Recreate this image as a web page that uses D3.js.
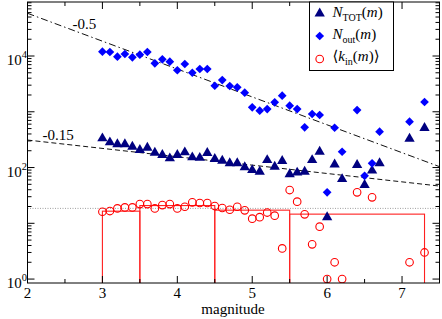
<!DOCTYPE html>
<html>
<head>
<meta charset="utf-8">
<script src="https://cdn.jsdelivr.net/npm/d3@7"></script>
<style>
  body { margin: 0; background: #fff; }
  svg { display: block; font-family: "Liberation Serif", "DejaVu Serif", serif; }
</style>
</head>
<body>
<div id="chart"></div>
<script>
// magnitudes where N_TOT and N_out are shown
const magsN = [3.0, 3.1, 3.2, 3.3, 3.4, 3.5, 3.6, 3.7, 3.8, 3.9, 4.0, 4.1, 4.2, 4.3, 4.4,
    4.5, 4.6, 4.7, 4.8, 4.9, 5.0, 5.1, 5.2, 5.3, 5.4, 5.5, 5.6, 5.7, 5.8, 5.9, 6.0, 6.1, 6.2,
    6.4, 6.5, 6.6, 6.7, 7.1, 7.3];
const nTot = [334, 283, 261, 261, 236, 206, 227, 184, 168, 146, 168, 187, 152, 149, 182,
    142, 132, 119, 119, 101, 90, 84, 136, 103, 131, 76, 81, 84, 136, 192, 12.8, 113, 62,
    111, 48.5, 88, 119, 329, 511];
const nOut = [11940, 11800, 9710, 10860, 9480, 10550, 11800, 7400, 8730, 7910, 5550, 7190, 5010, 5850, 5850,
    2930, 3710, 2900, 2750, 2200, 1200, 1045, 1120, 1480, 1940, 1285, 1120, 526, 912, 875, 35.9, 517, 192,
    1075, 71, 119, 439, 663, 1496];

// magnitudes where <k_in> is shown
const magsK = [3.0, 3.1, 3.2, 3.3, 3.4, 3.5, 3.6, 3.7, 3.8, 3.9, 4.0, 4.1, 4.2, 4.3, 4.4,
    4.5, 4.6, 4.7, 4.8, 4.9, 5.0, 5.1, 5.2, 5.3, 5.4, 5.5, 5.6, 5.7, 5.8, 5.9, 6.0, 6.1, 6.2,
    6.4, 6.6, 7.1, 7.3];
const kIn = [16.1, 16.6, 18.5, 19.3, 19.3, 22.1, 22.1, 18.5, 21.2, 22.1, 18.5, 19.8, 23.8, 23.1, 23.1,
    20.4, 18.8, 17.5, 19.8, 17.1, 12.1, 12.9, 15.6, 13.7, 3.55, 39.5, 24.4, 14.5, 4.2, 8.7, 1, 2, 1,
    35.9, 29.2, 2, 3];

// binned <k_in> histogram
const binEdges = [3.0, 3.5, 4.5, 5.5, 7.3];
const binHeights = [16.5, 20.8, 17.2, 14.6];
const kInMean = 18.5;

// power law fits: log10(y) = intercept + slope * m
const fitSlopes = [-0.5, -0.15];
const fitIntercepts = [5.766, 2.793];
const fitLabels = ["-0.5", "-0.15"];
const fitLabelMags = [2.6, 2.2];

const xTicks = [2, 3, 4, 5, 6, 7];
const yLabelExps = [0, 2, 4];

const W = 442, H = 319;
const plot = { left: 27.5, right: 439.5, top: 2, bottom: 283 };

const svg = d3.select("#chart").append("svg")
    .attr("width", W)
    .attr("height", H);

const x = d3.scaleLinear().domain([2, 7.5]).range([plot.left, plot.right]);
const y = d3.scaleLog().domain([0.85, 93000]).range([plot.bottom, plot.top]);

svg.append("clipPath").attr("id", "clip")
    .append("rect")
    .attr("x", plot.left).attr("y", plot.top)
    .attr("width", plot.right - plot.left).attr("height", plot.bottom - plot.top);

const g = svg.append("g").attr("clip-path", "url(#clip)");

// mean line
g.append("line")
    .attr("x1", plot.left).attr("x2", plot.right)
    .attr("y1", y(kInMean)).attr("y2", y(kInMean))
    .attr("stroke", "#888").attr("stroke-width", 0.8)
    .attr("stroke-dasharray", "1,1.5");

// histogram bars
binHeights.forEach((h, i) => {
    g.append("rect")
        .attr("x", x(binEdges[i]))
        .attr("y", y(h))
        .attr("width", x(binEdges[i + 1]) - x(binEdges[i]))
        .attr("height", plot.bottom + 5 - y(h))
        .attr("fill", "none")
        .attr("stroke", "#ff2020")
        .attr("stroke-width", 1.1);
});

// fit lines
const fitDash = ["7,3,1.5,3", "5,3"];
fitSlopes.forEach((s, i) => {
    const line = d3.line()
        .x(d => x(d))
        .y(d => y(Math.pow(10, fitIntercepts[i] + s * d)));
    g.append("path")
        .datum([2, 7.5])
        .attr("d", line)
        .attr("fill", "none")
        .attr("stroke", "#111")
        .attr("stroke-width", 1)
        .attr("stroke-dasharray", fitDash[i]);
    const lm = fitLabelMags[i];
    svg.append("text")
        .attr("x", x(lm))
        .attr("y", y(Math.pow(10, fitIntercepts[i] + s * lm)) - 1.5)
        .attr("font-size", 15)
        .text(fitLabels[i]);
});

// N_TOT triangles
const tri = d3.symbol().type(d3.symbolTriangle).size(46);
g.selectAll(".tot")
    .data(magsN.map((m, i) => [m, nTot[i]]))
    .enter().append("path")
    .attr("class", "tot")
    .attr("d", tri)
    .attr("transform", d => "translate(" + x(d[0]) + "," + y(d[1]) + ")")
    .attr("fill", "#000080");

// N_out diamonds
const dia = d3.symbol().type(d3.symbolSquare).size(38);
g.selectAll(".out")
    .data(magsN.map((m, i) => [m, nOut[i]]))
    .enter().append("path")
    .attr("class", "out")
    .attr("d", dia)
    .attr("transform", d => "translate(" + x(d[0]) + "," + y(d[1]) + ") rotate(45)")
    .attr("fill", "#0000ff");

// <k_in> circles
g.selectAll(".kin")
    .data(magsK.map((m, i) => [m, kIn[i]]))
    .enter().append("circle")
    .attr("class", "kin")
    .attr("cx", d => x(d[0]))
    .attr("cy", d => y(d[1]))
    .attr("r", 3.8)
    .attr("fill", "none")
    .attr("stroke", "#ff0000")
    .attr("stroke-width", 1.1);

// frame
svg.append("rect")
    .attr("x", plot.left).attr("y", plot.top)
    .attr("width", plot.right - plot.left).attr("height", plot.bottom - plot.top)
    .attr("fill", "none").attr("stroke", "#000").attr("stroke-width", 1);

// x ticks (inward, top and bottom)
const xMinor = d3.range(2.5, 7.5, 1);
const ticks = svg.append("g").attr("stroke", "#000").attr("stroke-width", 1);
xTicks.forEach(t => {
    ticks.append("line").attr("x1", x(t)).attr("x2", x(t)).attr("y1", plot.bottom).attr("y2", plot.bottom - 7);
    ticks.append("line").attr("x1", x(t)).attr("x2", x(t)).attr("y1", plot.top).attr("y2", plot.top + 7);
});
xMinor.forEach(t => {
    ticks.append("line").attr("x1", x(t)).attr("x2", x(t)).attr("y1", plot.bottom).attr("y2", plot.bottom - 4);
    ticks.append("line").attr("x1", x(t)).attr("x2", x(t)).attr("y1", plot.top).attr("y2", plot.top + 4);
});

svg.selectAll(".xlab")
    .data(xTicks)
    .enter().append("text")
    .attr("x", d => x(d))
    .attr("y", 298)
    .attr("text-anchor", "middle")
    .attr("font-size", 15)
    .text(d => d);

svg.append("text")
    .attr("x", 233)
    .attr("y", 314)
    .attr("text-anchor", "middle")
    .attr("font-size", 15)
    .text("magnitude");

// y ticks (inward, left and right)
for (let e = 0; e <= 4; e++) {
    for (let k = 1; k <= 9; k++) {
        const v = k * Math.pow(10, e);
        if (v < 0.85 || v > 93000) continue;
        const len = k === 1 ? 7 : 4;
        ticks.append("line").attr("x1", plot.left).attr("x2", plot.left + len).attr("y1", y(v)).attr("y2", y(v));
        ticks.append("line").attr("x1", plot.right).attr("x2", plot.right - len).attr("y1", y(v)).attr("y2", y(v));
    }
}

yLabelExps.forEach(e => {
    const t = svg.append("text")
        .attr("x", 27)
        .attr("y", y(Math.pow(10, e)) + 9)
        .attr("text-anchor", "end")
        .attr("font-size", 15);
    t.append("tspan").text("10");
    t.append("tspan").attr("dy", -7).attr("font-size", 10.5).text(e);
});

// legend
const lg = svg.append("g");
lg.append("rect")
    .attr("x", 309.5).attr("y", plot.top)
    .attr("width", 84).attr("height", 68.5)
    .attr("fill", "#fff").attr("stroke", "#000").attr("stroke-width", 1);

lg.append("path").attr("d", tri).attr("transform", "translate(319.7,13.5)").attr("fill", "#000080");
lg.append("path").attr("d", dia).attr("transform", "translate(319.7,36) rotate(45)").attr("fill", "#0000ff");
lg.append("circle").attr("cx", 319.7).attr("cy", 59).attr("r", 3.8)
    .attr("fill", "none").attr("stroke", "#ff0000").attr("stroke-width", 1.1);

function legendText(yPos, parts) {
    const t = lg.append("text").attr("x", 332.5).attr("y", yPos).attr("font-size", 15);
    parts.forEach(p => {
        const s = t.append("tspan").text(p.t);
        if (p.i) s.attr("font-style", "italic");
        if (p.sub) s.attr("font-size", 10).attr("dy", 4);
        if (p.up) s.attr("dy", -4);
    });
}
legendText(17, [{ t: "N", i: true }, { t: "TOT", sub: true }, { t: "(", up: true }, { t: "m", i: true }, { t: ")" }]);
legendText(39, [{ t: "N", i: true }, { t: "out", sub: true }, { t: "(", up: true }, { t: "m", i: true }, { t: ")" }]);
legendText(61, [{ t: "\u27E8" }, { t: "k", i: true }, { t: "in", sub: true }, { t: "(", up: true }, { t: "m", i: true }, { t: ")\u27E9" }]);
</script>
</body>
</html>
